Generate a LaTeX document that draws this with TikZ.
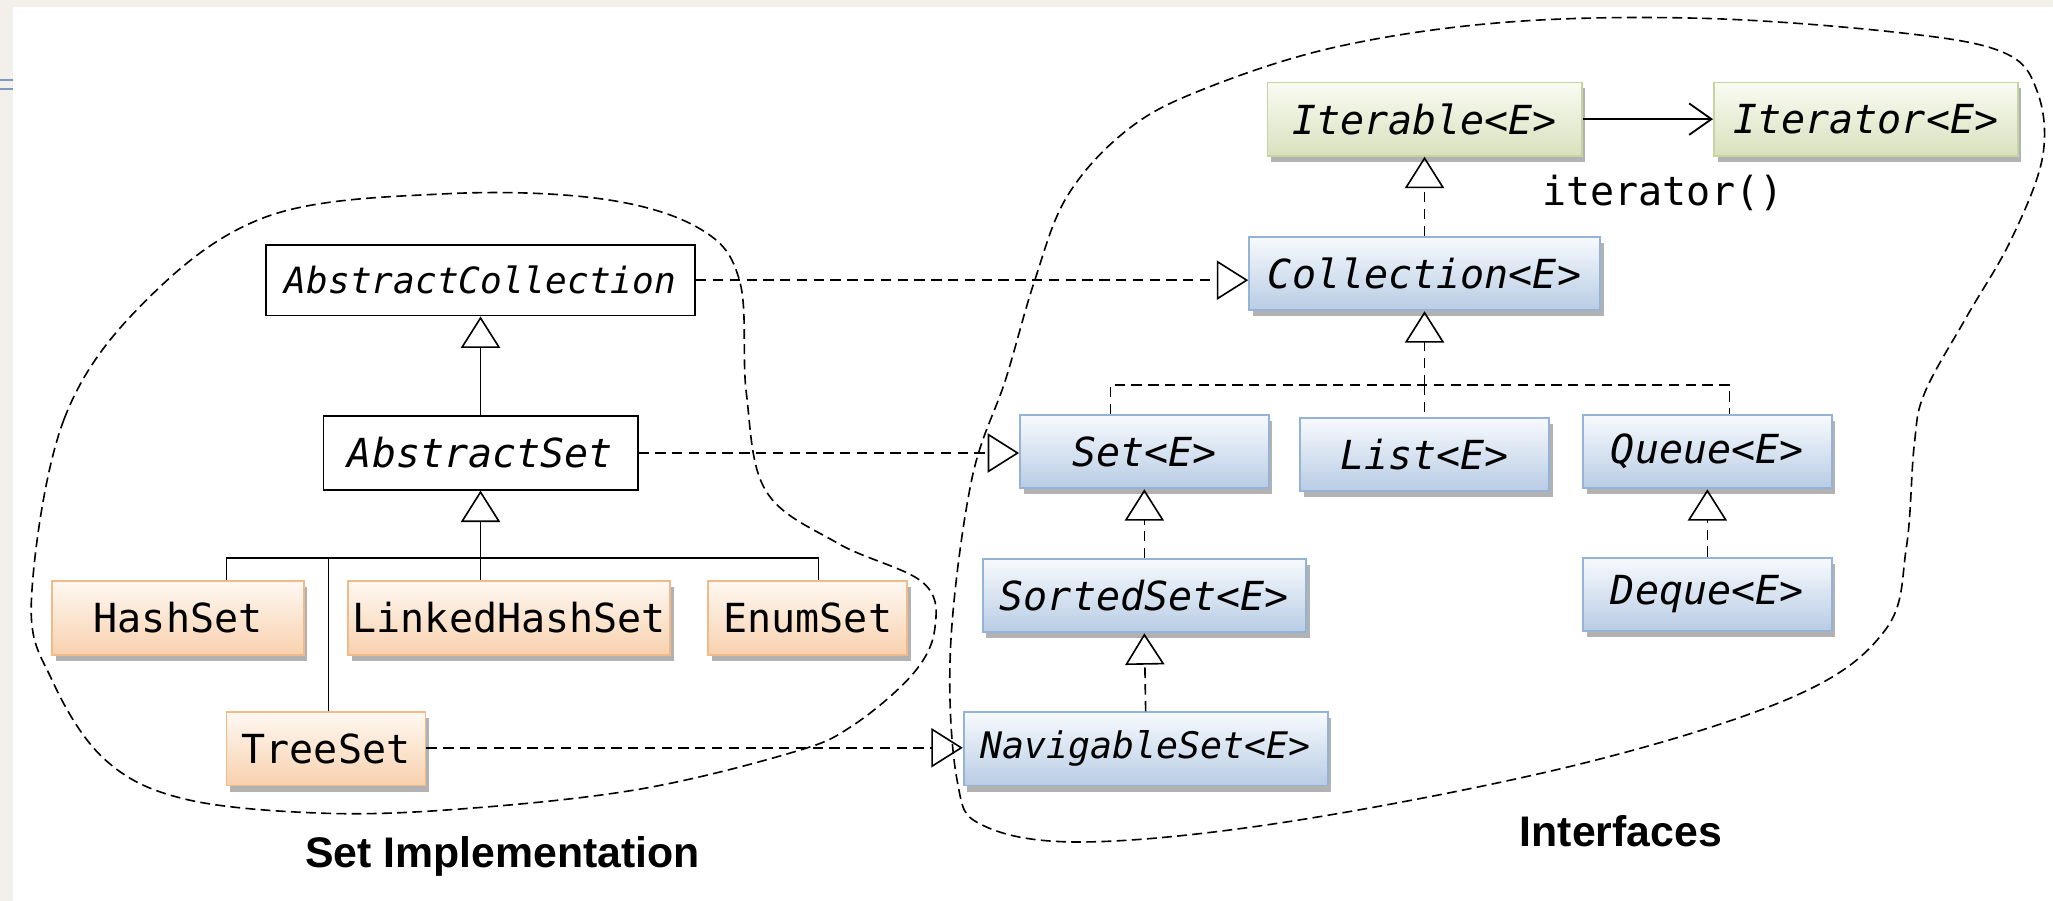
\documentclass[tikz,border=0pt]{standalone}
\usepackage{fontspec}
\setmonofont{DejaVu Sans Mono}
\newfontfamily\captionfont{Liberation Sans}
\usetikzlibrary{arrows.meta,shadows,calc}

\definecolor{pagebg}{HTML}{F3EFE9}
\definecolor{itertop}{HTML}{FAFBF3}
\definecolor{iterbot}{HTML}{D8E1BD}
\definecolor{iterline}{HTML}{C5D4A0}
\definecolor{ifacetop}{HTML}{F7FAFD}
\definecolor{ifacebot}{HTML}{B8CCE4}
\definecolor{ifaceline}{HTML}{95B3D7}
\definecolor{impltop}{HTML}{FEF8F2}
\definecolor{implbot}{HTML}{F8D1AE}
\definecolor{implline}{HTML}{F0BA8A}
\definecolor{marginblue}{HTML}{7D9AC6}

\tikzset{
  box/.style={minimum height=1.12cm, inner sep=0pt, line width=0.8pt, text=black},
  shaded/.style={box, drop shadow={shadow xshift=1.6pt, shadow yshift=-2.6pt, fill=black!55, opacity=0.55}},
  iter/.style={shaded, draw=iterline, top color=itertop, bottom color=iterbot,
    font=\ttfamily\itshape\fontsize{17.4}{20}\selectfont},
  iface/.style={shaded, draw=ifaceline, top color=ifacetop, bottom color=ifacebot,
    font=\ttfamily\itshape\fontsize{17.4}{20}\selectfont},
  impl/.style={shaded, draw=implline, top color=impltop, bottom color=implbot,
    font=\ttfamily\fontsize{17.4}{20}\selectfont},
  abstr/.style={box, draw=black, fill=white, font=\ttfamily\itshape\fontsize{17.4}{20}\selectfont},
  plain/.style={line width=0.7pt},
  dashline/.style={line width=0.7pt, dash pattern=on 4.5pt off 2.8pt},
  extend/.style={plain, -{Triangle[open, length=4.8mm, width=6mm]}},
  realize/.style={dashline, -{Triangle[open, length=4.8mm, width=6mm]}},
  assoc/.style={line width=0.8pt, -{Straight Barb[length=3.4mm, width=4.8mm]}},
  blob/.style={line width=0.7pt, dash pattern=on 4.3pt off 2.3pt},
  caption/.style={font=\captionfont\bfseries\fontsize{18.6}{21}\selectfont}
}

\begin{document}
\begin{tikzpicture}[x=0.02cm, y=-0.02cm]
  \useasboundingbox (0,0) rectangle (1568,688);
  \fill[pagebg] (0,0) rectangle (1568,688);
  \fill[white] (10,5) rectangle (1568,688);
  \draw[marginblue, line width=1pt] (0,61) -- (10,61) (0,68) -- (10,68);

  \draw[blob] plot[smooth cycle, tension=0.6] coordinates {
    (24,458) (49,320) (112,229) (205,165) (341,148) (460,152) (535,175) (565,215)
    (570,300) (585,375) (640,415) (705,445) (714,480) (697,515) (650,555) (604,575)
    (487,603) (350,618) (244,621) (140,610) (80,580) (40,520)};
  \draw[blob] plot[smooth cycle, tension=0.6] coordinates {
    (1150,17) (1300,14) (1451,25) (1530,40) (1556,70) (1560,120) (1536,183) (1502,242)
    (1470,300) (1462,340) (1456,418) (1440,481) (1370,532) (1209,583) (994,626) (833,643)
    (752,631) (731,596) (726,494) (742,367) (768,290) (790,215) (815,150) (860,100)
    (917,69) (1020,36)};

  \node[iter, minimum width=4.8cm] (iterable) at (1088,91) {Iterable<E>};
  \node[iter, minimum width=4.64cm] (iterator) at (1425,91) {Iterator<E>};
  \node[iface, minimum width=5.36cm] (collection) at (1088,209) {Collection<E>};
  \node[iface, minimum width=3.8cm] (set) at (874,345) {Set<E>};
  \node[iface, minimum width=3.8cm] (list) at (1088,347) {List<E>};
  \node[iface, minimum width=3.8cm] (queue) at (1304,345) {Queue<E>};
  \node[iface, minimum width=4.94cm] (sortedset) at (874,455) {SortedSet<E>};
  \node[iface, minimum width=3.8cm] (deque) at (1304,454) {Deque<E>};
  \node[iface, minimum width=5.56cm, font=\ttfamily\itshape\fontsize{15.9}{18}\selectfont]
    (navigableset) at (875,572) {NavigableSet<E>};

  \node[abstr, minimum width=6.56cm, minimum height=1.08cm,
        font=\ttfamily\itshape\fontsize{15.7}{18}\selectfont] (abstractcollection) at (367,214) {AbstractCollection};
  \node[abstr, minimum width=4.8cm] (abstractset) at (367,346) {AbstractSet};
  \node[impl, minimum width=3.84cm] (hashset) at (136,472) {HashSet};
  \node[impl, minimum width=4.92cm] (linkedhashset) at (389,472) {LinkedHashSet};
  \node[impl, minimum width=3.04cm] (enumset) at (617,472) {EnumSet};
  \node[impl, minimum width=3.04cm] (treeset) at (249,572) {TreeSet};

  \draw[assoc] (iterable.east) -- (iterable.east -| iterator.west);
  \node[font=\ttfamily\fontsize{17.4}{20}\selectfont] (iteratorcall) at (1270,147) {iterator()};
  \draw[realize] (collection.north) -- (iterable.south);

  \coordinate (ifacebar) at (1088,294);
  \draw[realize] (ifacebar) -- (collection.south);
  \draw[dashline] ($(set.north)+(-26,0)$) |- (ifacebar) -| ($(queue.north)+(17,0)$);
  \draw[dashline] (ifacebar) -- (list.north);
  \draw[realize] (sortedset.north) -- (set.south);
  \draw[realize] (navigableset.north) -- (sortedset.south);
  \draw[realize] (deque.north) -- (queue.south);

  \coordinate (implbar) at (367,426);
  \draw[extend] (implbar) -- (abstractset.south);
  \draw[extend] (abstractset.north) -- (abstractcollection.south);
  \draw[plain] ($(hashset.north)+(37,0)$) |- (implbar) -| ($(enumset.north)+(8,0)$);
  \draw[plain] (implbar) -- (implbar |- linkedhashset.north);
  \draw[plain] ($(treeset.north)+(2,0)$) -- ($(treeset.north |- implbar)+(2,0)$);

  \draw[realize] (abstractcollection.east) -- (abstractcollection.east -| collection.west);
  \draw[realize] (abstractset.east) -- (abstractset.east -| set.west);
  \draw[realize] ([yshift=0.5pt]treeset.east) -- ([yshift=0.5pt]treeset.east -| navigableset.west);

  \node[caption] (setimpl) at (384,654) {Set Implementation};
  \node[caption] (interfaces) at (1238,635) {Interfaces};
\end{tikzpicture}
\end{document}
